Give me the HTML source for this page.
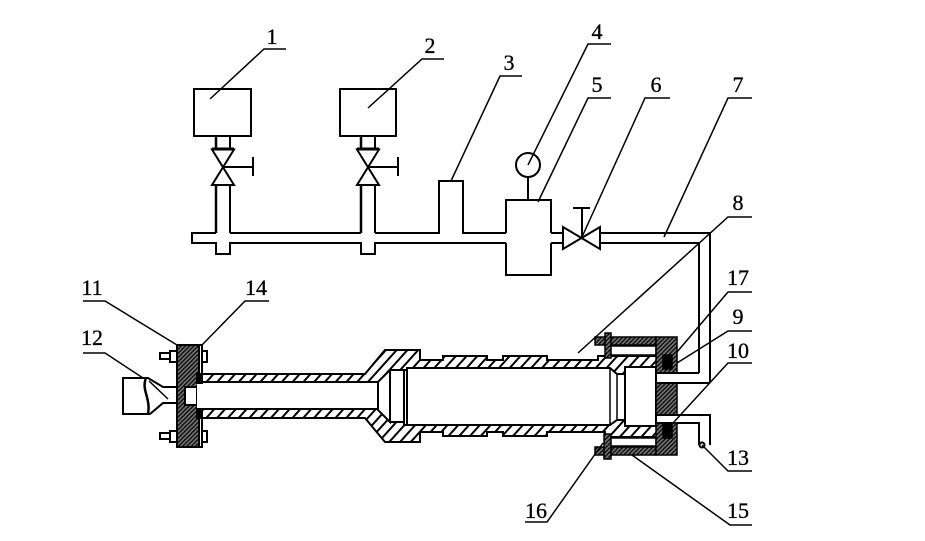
<!DOCTYPE html>
<html><head><meta charset="utf-8"><style>
html,body{margin:0;padding:0;background:#fff}
svg{display:block}
text{font-family:"Liberation Serif",serif;font-size:22px;fill:#000;stroke:#000;stroke-width:.3;text-anchor:middle}
</style></head><body>
<svg width="925" height="541" viewBox="0 0 925 541" xmlns="http://www.w3.org/2000/svg">
<defs>
<pattern id="h" width="8" height="8" patternUnits="userSpaceOnUse" patternTransform="rotate(42)">
<rect width="8" height="8" fill="#fff"/><rect width="2" height="8" fill="#000"/>
</pattern>
<pattern id="d" width="3" height="3" patternUnits="userSpaceOnUse" patternTransform="rotate(45)">
<rect width="3" height="3" fill="#777"/><rect width="1.500" height="3" fill="#111"/>
</pattern>
</defs>
<rect width="925" height="541" fill="#fff"/>

<g fill="none" stroke="#000" stroke-width="2">
<!-- pipe -->
<path d="M216 233H192V243H216V254H230V243H361V254H375V243H506M551 243H563"/>
<path d="M216 233V185M230 233V185M361 233V185M375 233V185M230 233H361M375 233H439V181H463V233H506M551 233H563"/>
<path d="M600 233H710V383M600 243H699V373"/>
<!-- tanks -->
<rect x="194" y="89" width="57" height="47"/>
<rect x="340" y="89" width="56" height="47"/>
<path d="M216 136V149M230 136V149M361 136V149M375 136V149"/>
<path d="M212 149.500H234L212 185H234Z"/>
<path d="M357 149.500H379L357 185H379Z"/>
<path d="M223 167H253M253 157V176M368 167H398M398 157V176"/>
<path d="M212 149H234M357 149H379" stroke-width="3"/>
<path d="M216 136V149M361 136V149M216 185V233M361 185V233" stroke-width="2.500"/>
<!-- vessel 5 -->
<path d="M506 233V200H551V233M506 243V275H551V243"/>
<circle cx="528" cy="165" r="12"/>
<path d="M528 177V200"/>
<!-- valve 6 -->
<path d="M563 227V249L600 227V249Z"/>
<path d="M582 237V208M573 208H590"/>
</g>

<!-- barrel tubes -->
<g stroke="#000" stroke-width="2">
<path fill="url(#h)" d="M202 374H365L385 350H420V360H443V356H487V360H503V356H547V360H598V356H663V368H625V374H617L610 368H407V370H390L378 382H202Z"/>
<path fill="url(#h)" d="M202 409H378L390 422H404V425H610L617 420H625V426H663V437H605V432H547V436H503V432H487V436H443V432H420V442H385L365 418H202Z"/>
<path fill="#fff" d="M378 382L390 370V422L378 410Z"/>
<path fill="#fff" d="M390 370H404V422H390Z"/>
<path fill="none" d="M407 368V425"/>
<path fill="none" stroke-width="1.500" d="M610 368V425M617 374V420"/>
<path fill="#fff" d="M625 367H656V426H625Z"/>
<path fill="none" d="M625 374V420"/>
</g>

<!-- end cap -->
<g stroke="#000" stroke-width="1.500">
<rect x="595" y="337" width="61" height="8" fill="url(#d)"/>
<rect x="595" y="447" width="61" height="8" fill="url(#d)"/>
<path fill="#fff" d="M610 346H656V355H610ZM610 438H656V446H610Z"/>
<rect x="656" y="337" width="21" height="36" fill="url(#d)"/>
<rect x="656" y="383" width="21" height="32" fill="url(#d)"/>
<rect x="656" y="423" width="21" height="32" fill="url(#d)"/>
<rect x="663" y="355" width="9" height="14" fill="#000"/>
<rect x="663" y="424" width="9" height="14" fill="#000"/>
<rect x="605" y="333" width="6" height="25" fill="url(#d)"/>
<rect x="604" y="434" width="7" height="25" fill="url(#d)"/>
</g>
<g fill="none" stroke="#000" stroke-width="2">
<path d="M656 373H699M656 383H710M656 415H710V445M656 423H699V445"/>
<circle cx="702" cy="445" r="2.500"/>
</g>

<!-- left flange -->
<g stroke="#000" stroke-width="2">
<rect x="177" y="345" width="22" height="102" fill="url(#d)"/>
<rect x="199" y="345" width="3" height="102" fill="#fff"/>
<rect x="185" y="387" width="12" height="18" fill="#fff"/>
<rect x="197" y="383" width="6" height="26" fill="#fff" stroke="none"/>
<path fill="#000" d="M197 374h5v9h-5zM197 409h5v9h-5z"/>
<path fill="#fff" d="M160 353H170V359H160ZM170 351H177V362H170ZM202 351H207V362H202Z"/>
<path fill="#fff" d="M160 433H170V439H160ZM170 431H177V442H170ZM202 431H207V442H202Z"/>
<path fill="#fff" d="M123 378H148L163 387H177V403H163L150 414H123Z"/>
<path fill="none" stroke-width="2.500" d="M146 378C141 390 151 398 148 414"/>
<path fill="none" stroke-width="1.500" d="M149 381L168 399"/>
</g>

<!-- leaders -->
<g fill="none" stroke="#000" stroke-width="1.500">
<path d="M210 99L264 49H286"/>
<path d="M368 108L422 59H444"/>
<path d="M451 181L500 76H522"/>
<path d="M528 165L588 44H611"/>
<path d="M538 202L588 98H611"/>
<path d="M582 237L645 98H670"/>
<path d="M664 237L728 98H752"/>
<path d="M578 353L728 217H752"/>
<path d="M677 352L728 292H752"/>
<path d="M677 363L728 331H752"/>
<path d="M673 423L728 363H752"/>
<path d="M702 445L728 471H752"/>
<path d="M632 455L730 525H752"/>
<path d="M603 443L547 522H525"/>
<path d="M177 345L105 301H83"/>
<path d="M202 345L245 301H269"/>
<path d="M143 378L105 353H83"/>
</g>

<text x="272" y="44">1</text>
<text x="430" y="53">2</text>
<text x="509" y="70">3</text>
<text x="597" y="39">4</text>
<text x="597" y="92">5</text>
<text x="656" y="92">6</text>
<text x="738" y="92">7</text>
<text x="738" y="210">8</text>
<text x="738" y="324">9</text>
<text x="738" y="358">10</text>
<text x="92" y="295">11</text>
<text x="92" y="345">12</text>
<text x="738" y="465">13</text>
<text x="256" y="295">14</text>
<text x="738" y="518">15</text>
<text x="536" y="518">16</text>
<text x="738" y="285">17</text>
</svg>
</body></html>
